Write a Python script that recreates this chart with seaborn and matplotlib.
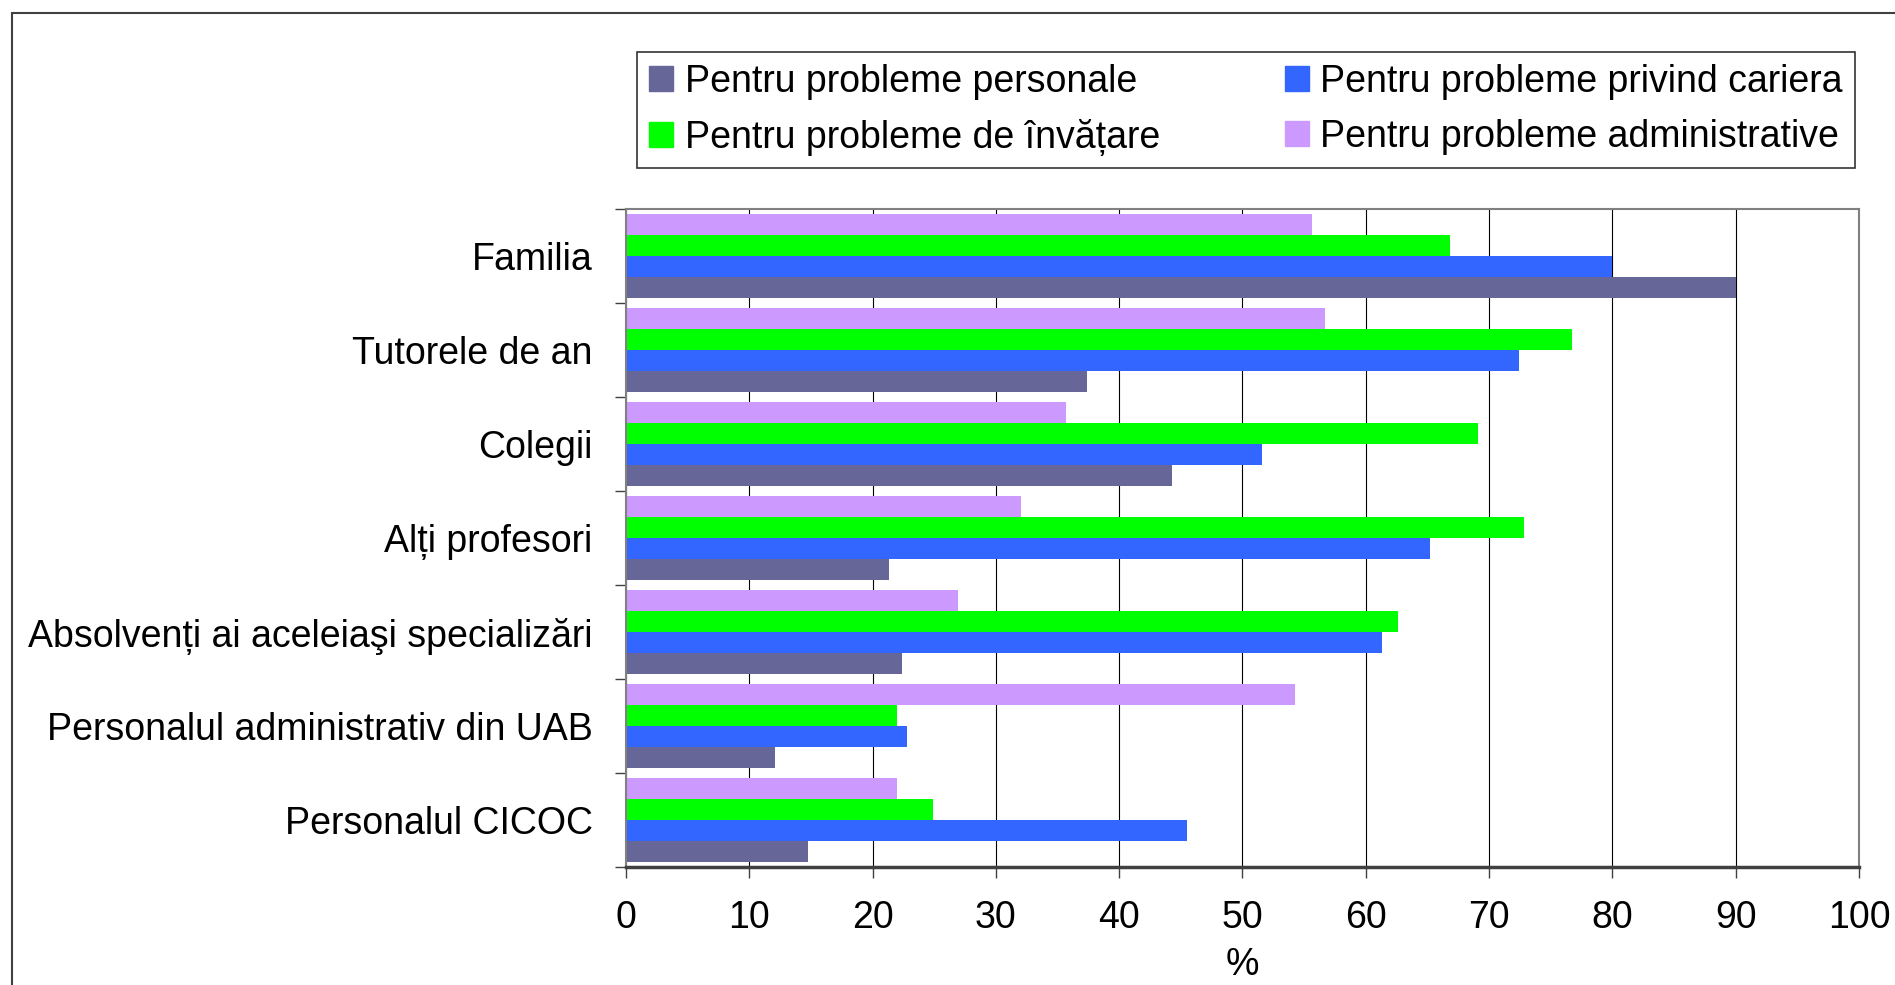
import pandas as pd
import numpy as np
import matplotlib
matplotlib.use('Agg')
import matplotlib.pyplot as plt
import seaborn as sns
from matplotlib.patches import Rectangle

# Data
categories = ['Familia', 'Tutorele de an', 'Colegii', 'Alți profesori',
              'Absolvenți ai aceleiaşi specializări',
              'Personalul administrativ din UAB', 'Personalul CICOC']

personale = [90.0, 37.4, 44.3, 21.3, 22.4, 12.1, 14.8]
cariera = [80.0, 72.4, 51.6, 65.2, 61.3, 22.8, 45.5]
invatare = [66.8, 76.7, 69.1, 72.8, 62.6, 22.0, 24.9]
administrative = [55.6, 56.7, 35.7, 32.0, 26.9, 54.3, 22.0]

series_names = ['Pentru probleme personale', 'Pentru probleme privind cariera',
                'Pentru probleme de învățare', 'Pentru probleme administrative']
series_colors = ['#666699', '#3366FF', '#00FF00', '#CC99FF']

# Build a long table for seaborn
df = pd.DataFrame({
    'categorie': categories * 4,
    'serie': np.repeat(series_names, len(categories)),
    'valoare': personale + cariera + invatare + administrative,
})

sns.set_style('white')
plt.rcParams['font.family'] = ['Liberation Sans', 'DejaVu Sans']
plt.rcParams['text.color'] = 'black'
plt.rcParams['axes.labelcolor'] = 'black'
plt.rcParams['xtick.labelcolor'] = 'black'
plt.rcParams['ytick.labelcolor'] = 'black'
FS = 27

fig = plt.figure(figsize=(18.95, 9.85), dpi=100)
ax = fig.add_axes([0.3303, 0.1198, 0.6507, 0.668])

# Bars: top of each group is administrative, bottom is personale
hue_order = series_names[::-1]
palette = dict(zip(series_names, series_colors))
sns.barplot(data=df, y='categorie', x='valoare', hue='serie', order=categories,
            hue_order=hue_order, palette=palette, orient='h', width=0.9,
            saturation=1, linewidth=0, ax=ax, legend=False)

ax.set_xlim(0, 100)
ax.set_ylim(len(categories) - 0.5, -0.5)
ax.set_xticks(range(0, 101, 10))
ax.tick_params(axis='x', labelsize=FS, length=8, width=1, color='#404040',
               direction='out', pad=16, bottom=True)
ax.grid(axis='x', color='black', linewidth=0.8)
ax.grid(axis='y', visible=False)
ax.set_axisbelow(True)

# Category labels on minor ticks, boundary ticks as major ticks
ax.set_yticks(np.arange(-0.5, len(categories)), labels=[''] * (len(categories) + 1))
ax.set_yticks(range(len(categories)), labels=categories, minor=True)
ax.tick_params(axis='y', which='major', length=8, width=1, color='#404040',
               direction='out', left=True)
ax.tick_params(axis='y', which='minor', length=0, labelsize=FS, pad=24)
ax.set_ylabel('')
ax.set_xlabel('%', fontsize=FS, labelpad=8)

for side in ['top', 'right', 'left']:
    ax.spines[side].set_color('#808080')
    ax.spines[side].set_linewidth(1.5)
ax.spines['bottom'].set_color('#404040')
ax.spines['bottom'].set_linewidth(2.5)

# Legend in the same order as the original (2 columns)
handles = [Rectangle((0, 0), 1, 1, color=c) for c in series_colors]
order = [0, 2, 1, 3]
leg = fig.legend([handles[i] for i in order], [series_names[i] for i in order],
                 ncol=2, loc='center', bbox_to_anchor=(0.336, 0.830, 0.643, 0.117),
                 mode='expand', fontsize=FS, frameon=True, fancybox=False,
                 edgecolor='black', handlelength=0.65, handleheight=0.65,
                 handletextpad=0.3, labelspacing=0.5, borderpad=0.33,
                 borderaxespad=0)
leg.get_frame().set_linewidth(1.2)

# Outer border of the chart area
fig.patches.append(Rectangle((12 / 1895, -0.05), 1.1, 1 - 13 / 985 + 0.05,
                             transform=fig.transFigure, fill=False,
                             edgecolor='#404040', linewidth=1.5))

plt.savefig('out.png', dpi=100)
